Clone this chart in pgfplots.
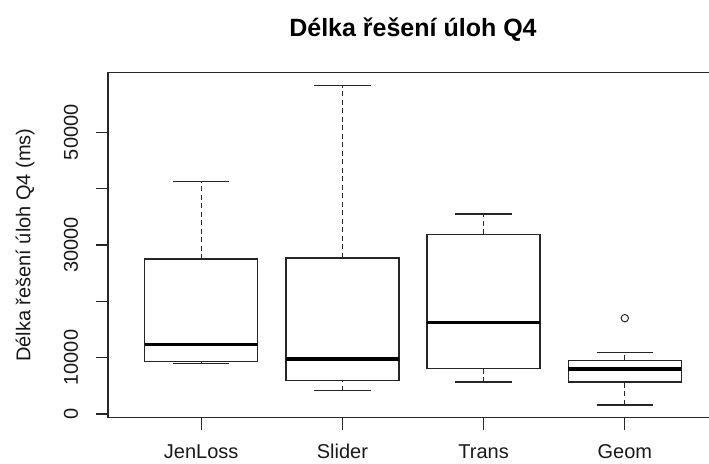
\documentclass[border=0pt]{standalone}
\usepackage{pgfplots}
\pgfplotsset{compat=1.18}
\usepackage{fontspec}
\setmainfont{Liberation Sans}
\begin{document}
\begin{tikzpicture}
\path[use as bounding box] (0pt,0pt) rectangle (709pt,463pt);
\clip (0pt,0pt) rectangle (709pt,463pt);
\begin{axis}[
  at={(108pt,45.3pt)}, anchor=south west,
  scale only axis, width=610pt, height=345pt,
  xmin=0.34, xmax=4.66, ymin=-670, ymax=60570,
  axis line style={black!85, line width=1.25pt},
  tick style={black!85, line width=1.25pt},
  tick align=outside, major tick length=12pt,
  xtick={1,2,3,4}, xticklabels={JenLoss,Slider,Trans,Geom},
  ytick={0,10000,20000,30000,40000,50000},
  yticklabels={0,10000,,30000,,50000},
  scaled y ticks=false,
  ticklabel style={font=\fontsize{20}{24}\selectfont, text=black!90},
  xticklabel style={anchor=center, inner sep=0pt, yshift=-21.8pt},
  yticklabel style={rotate=90, anchor=center, yshift=25pt},
  xtick pos=bottom, ytick pos=left,
  title={Délka řešení úloh Q4},
  title style={at={(axis description cs:0.5,1.1064)}, anchor=center, font=\bfseries\fontsize{25}{30}\selectfont},
  ylabel={Délka řešení úloh Q4 (ms)},
  ylabel style={at={(axis description cs:-0.136,0.5)}, anchor=center, font=\fontsize{20}{24}\selectfont, text=black!90},
  bx/.style={black!85, line width=1.25pt, no marks},
  md/.style={black, line width=3.6pt, no marks},
  wh/.style={black!85, line width=1.25pt, no marks, dash pattern=on 5pt off 3.5pt},
]
% JenLoss: lw 8900, lq 9300, med 12300, uq 27500, uw 41200
\addplot[bx] coordinates {(0.6,9300) (1.4,9300) (1.4,27500) (0.6,27500) (0.6,9300)};
\addplot[md] coordinates {(0.6,12300) (1.4,12300)};
\addplot[wh] coordinates {(1,27500) (1,41200)};
\addplot[wh] coordinates {(1,8900) (1,9300)};
\addplot[bx] coordinates {(0.8,41200) (1.2,41200)};
\addplot[bx] coordinates {(0.8,8900) (1.2,8900)};
% Slider: lw 4100, lq 5900, med 9800, uq 27700, uw 58300
\addplot[bx] coordinates {(1.6,5900) (2.4,5900) (2.4,27700) (1.6,27700) (1.6,5900)};
\addplot[md] coordinates {(1.6,9800) (2.4,9800)};
\addplot[wh] coordinates {(2,27700) (2,58300)};
\addplot[wh] coordinates {(2,4100) (2,5900)};
\addplot[bx] coordinates {(1.8,58300) (2.2,58300)};
\addplot[bx] coordinates {(1.8,4100) (2.2,4100)};
% Trans: lw 5650, lq 8000, med 16200, uq 31900, uw 35500
\addplot[bx] coordinates {(2.6,8000) (3.4,8000) (3.4,31900) (2.6,31900) (2.6,8000)};
\addplot[md] coordinates {(2.6,16200) (3.4,16200)};
\addplot[wh] coordinates {(3,31900) (3,35500)};
\addplot[wh] coordinates {(3,5650) (3,8000)};
\addplot[bx] coordinates {(2.8,35500) (3.2,35500)};
\addplot[bx] coordinates {(2.8,5650) (3.2,5650)};
% Geom: lw 1600, lq 5650, med 8000, uq 9500, uw 10900, outlier 17000
\addplot[bx] coordinates {(3.6,5650) (4.4,5650) (4.4,9500) (3.6,9500) (3.6,5650)};
\addplot[md] coordinates {(3.6,8000) (4.4,8000)};
\addplot[wh] coordinates {(4,9500) (4,10900)};
\addplot[wh] coordinates {(4,1600) (4,5650)};
\addplot[bx] coordinates {(3.8,10900) (4.2,10900)};
\addplot[bx] coordinates {(3.8,1600) (4.2,1600)};
\addplot[black!85, only marks, mark=o, mark size=3.7pt, mark options={line width=1pt}] coordinates {(4,17000)};
\end{axis}
\end{tikzpicture}
\end{document}
